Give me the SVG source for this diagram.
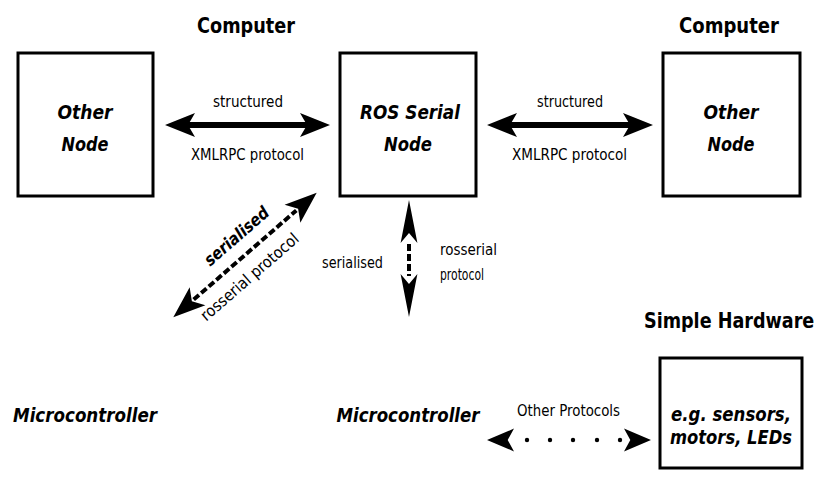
<svg xmlns="http://www.w3.org/2000/svg" width="819" height="502" viewBox="0 0 819 502">
<defs>
<style>
.box{fill:#fff;stroke:#000;stroke-width:3}
.hd{font-family:"DejaVu Sans",sans-serif;font-weight:bold;fill:#000}
.nl{font-family:"DejaVu Sans",sans-serif;font-weight:bold;font-style:italic;fill:#000;text-anchor:middle}
.sm{font-family:"DejaVu Sans",sans-serif;fill:#000;font-size:16px}
.shaft{stroke:#000;stroke-width:6;fill:none}
.dash{stroke:#000;stroke-width:4;fill:none;stroke-dasharray:7 3}
</style>
<path id="head" d="M0,0 L-30,-12 L-23,0 L-30,12 Z" fill="#000"/>
</defs>
<rect width="819" height="502" fill="#fff"/>

<text class="hd" x="197" y="33" font-size="22" textLength="98" lengthAdjust="spacingAndGlyphs">Computer</text>
<text class="hd" x="679" y="33" font-size="22" textLength="100" lengthAdjust="spacingAndGlyphs">Computer</text>
<text class="hd" transform="translate(644,328) scale(0.8,1)" x="0" y="0" font-size="22">Simple Hardware</text>

<g id="other1">
<rect class="box" x="18" y="53" width="135" height="143"/>
<text class="nl" x="85" y="119" font-size="20" textLength="55" lengthAdjust="spacingAndGlyphs">Other</text>
<text class="nl" x="85" y="151" font-size="20" textLength="47" lengthAdjust="spacingAndGlyphs">Node</text>
</g>
<g id="rosserial">
<rect class="box" x="340" y="53" width="136" height="143"/>
<text class="nl" x="410" y="119" font-size="20" textLength="100" lengthAdjust="spacingAndGlyphs">ROS Serial</text>
<text class="nl" x="408" y="151" font-size="20" textLength="48" lengthAdjust="spacingAndGlyphs">Node</text>
</g>
<g id="other2">
<rect class="box" x="663" y="53" width="137" height="143"/>
<text class="nl" x="731" y="119" font-size="20" textLength="55" lengthAdjust="spacingAndGlyphs">Other</text>
<text class="nl" x="731" y="151" font-size="20" textLength="47" lengthAdjust="spacingAndGlyphs">Node</text>
</g>
<g id="micro1">
<text class="nl" x="85" y="422" font-size="20" textLength="144" lengthAdjust="spacingAndGlyphs">Microcontroller</text>
</g>
<g id="micro2">
<text class="nl" x="408" y="422" font-size="20" textLength="143" lengthAdjust="spacingAndGlyphs">Microcontroller</text>
</g>
<g id="hardware">
<rect class="box" x="660" y="358" width="142" height="110"/>
<text class="nl" x="731" y="421" font-size="20" textLength="120" lengthAdjust="spacingAndGlyphs">e.g. sensors,</text>
<text class="nl" x="731" y="444" font-size="20" textLength="122" lengthAdjust="spacingAndGlyphs">motors, LEDs</text>
</g>

<g id="connectors">
<line class="shaft" x1="185" y1="125" x2="310" y2="125"/>
<use href="#head" transform="translate(330,125)"/>
<use href="#head" transform="translate(165,125) rotate(180)"/>
<text class="sm" x="213" y="107" textLength="70" lengthAdjust="spacingAndGlyphs">structured</text>
<text class="sm" x="191" y="160" textLength="113" lengthAdjust="spacingAndGlyphs">XMLRPC protocol</text>

<line class="shaft" x1="507" y1="125" x2="633" y2="125"/>
<use href="#head" transform="translate(653,125)"/>
<use href="#head" transform="translate(487,125) rotate(180)"/>
<text class="sm" x="537" y="107" textLength="66" lengthAdjust="spacingAndGlyphs">structured</text>
<text class="sm" x="512" y="160" textLength="115" lengthAdjust="spacingAndGlyphs">XMLRPC protocol</text>

<g transform="translate(245,255) rotate(-41)">
<line class="dash" x1="-68" y1="0" x2="68" y2="0" stroke-width="5"/>
<use href="#head" transform="translate(95,0) scale(1.07,1)"/>
<use href="#head" transform="translate(-95,0) rotate(180) scale(1.07,1)"/>
<text class="nl" x="6" y="-14" font-size="17" textLength="80" lengthAdjust="spacingAndGlyphs">serialised</text>
<text class="sm" x="-11" y="25" text-anchor="middle" font-size="17" textLength="124" lengthAdjust="spacingAndGlyphs">rosserial protocol</text>
</g>

<line class="dash" x1="409" y1="244" x2="409" y2="276" stroke-dasharray="6 4"/>
<use href="#head" transform="translate(409,200) rotate(-90) scale(1.43,0.7)"/>
<use href="#head" transform="translate(409,317) rotate(90) scale(1.43,0.7)"/>
<text class="sm" x="322" y="268" textLength="61" lengthAdjust="spacingAndGlyphs">serialised</text>
<text class="sm" x="440" y="255" textLength="57" lengthAdjust="spacingAndGlyphs">rosserial</text>
<text class="sm" x="440" y="280" textLength="44" lengthAdjust="spacingAndGlyphs">protocol</text>

<use href="#head" transform="translate(487,440) rotate(180) scale(0.9,0.95)"/>
<use href="#head" transform="translate(651,440) scale(0.9,0.95)"/>
<g fill="#000">
<circle cx="527" cy="440" r="2.2"/>
<circle cx="550" cy="440" r="2.2"/>
<circle cx="573" cy="440" r="2.2"/>
<circle cx="597" cy="440" r="2.2"/>
<circle cx="620" cy="440" r="2.2"/>
</g>
<text class="sm" x="517" y="416" textLength="103" lengthAdjust="spacingAndGlyphs">Other Protocols</text>
</g>
</svg>
